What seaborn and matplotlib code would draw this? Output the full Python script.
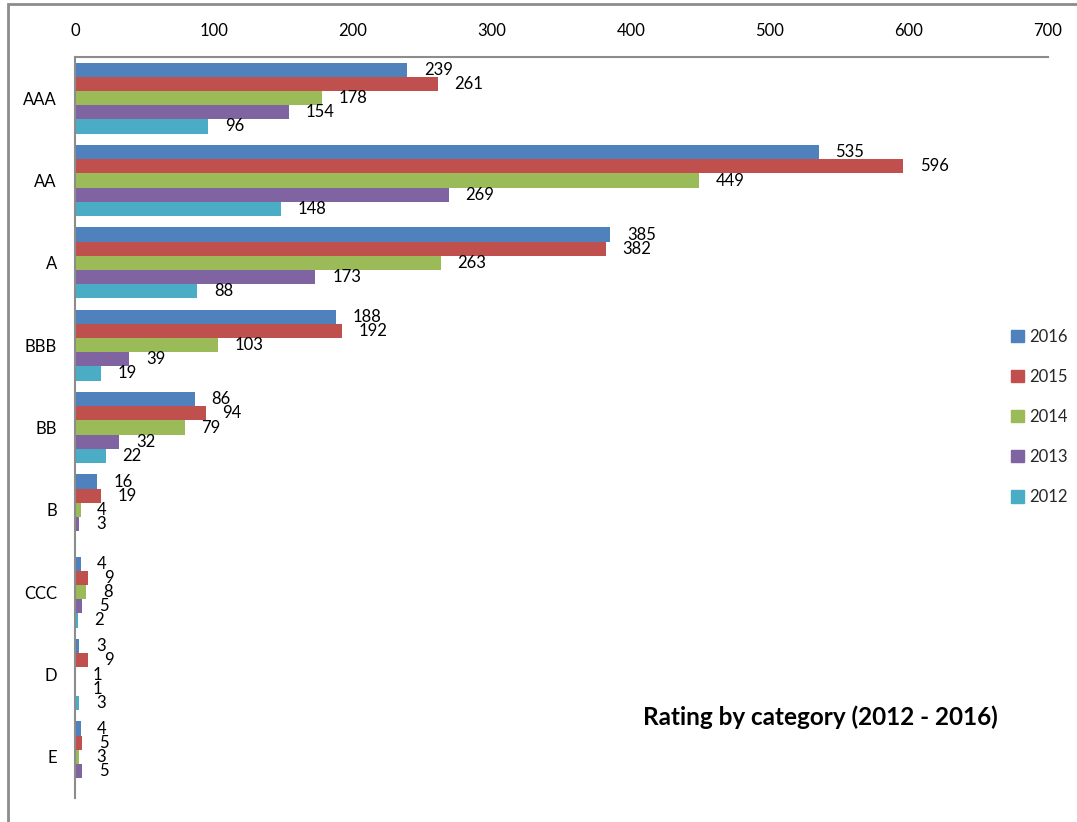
import numpy as np
import pandas as pd
import matplotlib
matplotlib.use("Agg")
import matplotlib.pyplot as plt
import seaborn as sns
from matplotlib.patches import Rectangle

categories = ["AAA", "AA", "A", "BBB", "BB", "B", "CCC", "D", "E"]
years = ["2016", "2015", "2014", "2013", "2012"]
v2016 = [239, 535, 385, 188, 86, 16, 4, 3, 4]
v2015 = [261, 596, 382, 192, 94, 19, 9, 9, 5]
v2014 = [178, 449, 263, 103, 79, 4, 8, 1, 3]
v2013 = [154, 269, 173, 39, 32, 3, 5, 1, 5]
v2012 = [96, 148, 88, 19, 22, np.nan, 2, 3, np.nan]
colors = ["#4F81BD", "#C0504D", "#9BBB59", "#8064A2", "#4BACC6"]
xticks = [0, 100, 200, 300, 400, 500, 600, 700]
title = "Rating by category (2012 - 2016)"

rows = []
for yr, vals in zip(years, [v2016, v2015, v2014, v2013, v2012]):
    for c, v in zip(categories, vals):
        rows.append({"category": c, "year": yr, "value": v})
df = pd.DataFrame(rows)

sns.set_theme(style="white")
plt.rcParams["font.family"] = ["Lato", "DejaVu Sans"]

W, H = 1077, 822
fig = plt.figure(figsize=(W / 100, H / 100), dpi=100)
ax = fig.add_axes([75 / W, 1 - 798 / H, (1048 - 75) / W, (798 - 57) / H])

sns.barplot(data=df, y="category", x="value", hue="year", order=categories,
            hue_order=years, palette=colors, orient="h", width=0.86, gap=0,
            ax=ax, linewidth=0, saturation=1, legend=True, errorbar=None)

fs = 12
for cont in ax.containers:
    labels = ["" if np.isnan(w) else f"{int(w)}" for w in cont.datavalues]
    ax.bar_label(cont, labels=labels, padding=12, fontsize=fs, color="black")

ax.set_xlim(0, 700)
ax.set_xticks(xticks)
ax.xaxis.tick_top()
ax.tick_params(axis="x", length=0, pad=13, labelsize=fs, colors="black")
ax.tick_params(axis="y", length=0, pad=13, labelsize=fs, colors="black")
ax.set_xlabel("")
ax.set_ylabel("")
for s in ["right", "bottom"]:
    ax.spines[s].set_visible(False)
for s in ["top", "left"]:
    ax.spines[s].set_color("#8C8C8C")
    ax.spines[s].set_linewidth(1.5)

leg = ax.get_legend()
if leg is not None:
    leg.remove()
handles = [Rectangle((0, 0), 1, 1, color=c) for c in colors]
fig.legend(handles, years, loc="center left",
           bbox_to_anchor=(1011 / W, 1 - 417 / H), frameon=False,
           fontsize=fs, handlelength=0.75, handleheight=0.75,
           handletextpad=0.35, labelspacing=1.45, borderpad=0, borderaxespad=0)

fig.text(998 / W, 1 - 717 / H, title, ha="right", va="center",
         fontsize=17.5, fontweight="bold", color="black")

fig.patches.append(Rectangle((8 / W, -0.1), 1.2, 1 - 4.5 / H + 0.1,
                             transform=fig.transFigure, fill=False,
                             edgecolor="#8C8C8C", linewidth=2))

fig.savefig("out.png", dpi=100)
